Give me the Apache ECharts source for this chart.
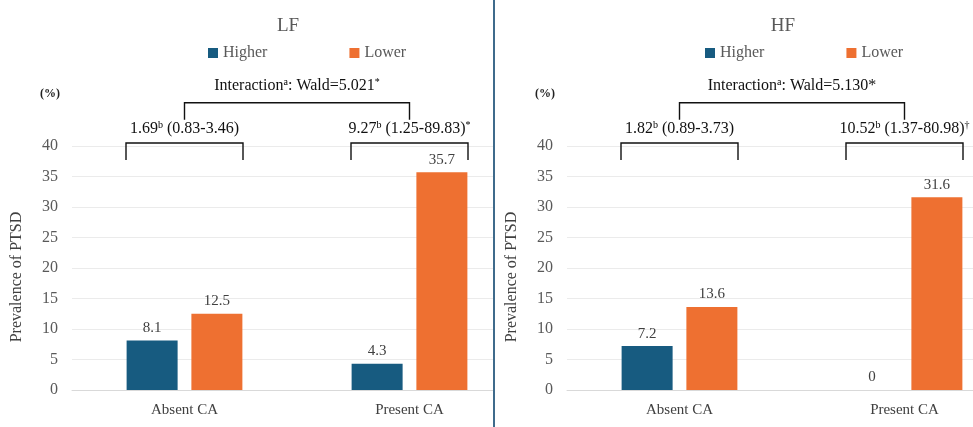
<!DOCTYPE html>
<html><head><meta charset="utf-8">
<script src="https://cdn.jsdelivr.net/npm/echarts@6/dist/echarts.min.js"></script>
<style>
html,body{margin:0;padding:0;background:#fff;}
#wrap{position:relative;width:973px;height:427px;overflow:hidden;background:#fff;}
.clip{position:absolute;top:0;height:427px;overflow:hidden;}
#clipL{left:0;width:493px;}
#clipR{left:495px;width:478px;}
.chart{width:540px;height:427px;}
#divider{position:absolute;left:493px;top:0;width:2px;height:427px;background:#3f6b8c;}
</style></head><body>
<div id="wrap">
<div class="clip" id="clipL"><div class="chart" id="chartL"></div></div>
<div id="divider"></div>
<div class="clip" id="clipR"><div class="chart" id="chartR"></div></div>
</div>
<script>
// ---- data ----
const categories = ['Absent CA', 'Present CA'];
const seriesNames = ['Higher', 'Lower'];
const lfHigher = [8.1, 4.3];
const lfLower = [12.5, 35.7];
const hfHigher = [7.2, 0];
const hfLower = [13.6, 31.6];
const yMin = 0, yMax = 40, yInterval = 5;
const lfTitle = 'LF';
const hfTitle = 'HF';
const lfGroupText = ['1.69{b|b} (0.83-3.46)', '9.27{b|b} (1.25-89.83){s|*}'];
const hfGroupText = ['1.82{b|b} (0.89-3.73)', '10.52{b|b} (1.37-80.98){s|†}'];
const lfInteraction = 'Interaction{b|a}: Wald=5.021{s|*}';
const hfInteraction = 'Interaction{b|a}: Wald=5.130*';
const yAxisName = 'Prevalence of PTSD';
const unitLabel = '(%)';

// ---- style ----
const SERIF = '"Liberation Serif", "Times New Roman", serif';
const C_HIGH = '#175b80';
const C_LOW = '#ee7031';
const richSup = {
  b: {fontSize: 10, fontFamily: SERIF, verticalAlign: 'top', fill: '#000', color: '#000', padding: [0, 0, 6, 0]},
  s: {fontSize: 10, fontFamily: SERIF, verticalAlign: 'top', fill: '#000', color: '#000', padding: [0, 0, 6, 0]}
};

function annotSeries(groupTexts, interText) {
  return {
    type: 'custom', silent: true, clip: false, z: 10,
    data: [[0], [1], [2]],
    renderItem: function (params, api) {
      const i = params.dataIndex;
      const cw = api.size([1, 0])[0];
      const lineStyle = {stroke: '#111', lineWidth: 1.4, fill: null};
      const textStyleBase = {fill: '#111', font: '16px ' + SERIF, align: 'center', verticalAlign: 'middle', rich: richSup};
      if (i < 2) {
        const cx = api.coord([i, 0])[0];
        const half = cw * 0.26;
        const yTop = api.coord([i, 40.5])[1];
        const yBot = api.coord([i, 37.7])[1];
        const yTxt = api.coord([i, 42.9])[1];
        return {type: 'group', children: [
          {type: 'polyline', shape: {points: [[cx - half, yBot], [cx - half, yTop], [cx + half, yTop], [cx + half, yBot]]}, style: lineStyle},
          {type: 'text', style: Object.assign({}, textStyleBase, {text: groupTexts[i], x: cx, y: yTxt})}
        ]};
      } else {
        const x0 = api.coord([0, 0])[0];
        const x1 = api.coord([1, 0])[0];
        const yTop = api.coord([0, 47.1])[1];
        const yBot = api.coord([0, 44.3])[1];
        const yTxt = api.coord([0, 49.9])[1];
        return {type: 'group', children: [
          {type: 'polyline', shape: {points: [[x0, yBot], [x0, yTop], [x1, yTop], [x1, yBot]]}, style: lineStyle},
          {type: 'text', style: Object.assign({}, textStyleBase, {text: interText, x: (x0 + x1) / 2, y: yTxt})}
        ]};
      }
    }
  };
}

function buildOption(title, higher, lower, groupTexts, interText, legendLeft) {
  const labelCfg = {show: true, position: 'top', distance: 5, fontFamily: SERIF, fontSize: 15, color: '#404040'};
  return {
    animation: false,
    backgroundColor: '#fff',
    title: {text: title, left: 283, top: 12, textAlign: 'center',
      textStyle: {fontFamily: SERIF, fontSize: 19, fontWeight: 'normal', color: '#595959'}},
    legend: {data: seriesNames, left: legendLeft, top: 40, itemWidth: 10, itemHeight: 10, itemGap: 82,
      icon: 'rect', textStyle: {fontFamily: SERIF, fontSize: 16, color: '#595959'}},
    graphic: [{type: 'text', left: 40, top: 88, style: {text: unitLabel, font: 'bold 12px ' + SERIF, fill: '#222'}}],
    grid: {left: 72, top: 146, width: 450, bottom: 37},
    xAxis: {type: 'category', data: categories,
      axisLine: {lineStyle: {color: '#d9d9d9'}}, axisTick: {show: false},
      axisLabel: {fontFamily: SERIF, fontSize: 15, color: '#404040', margin: 13}},
    yAxis: {type: 'value', min: yMin, max: yMax, interval: yInterval,
      name: yAxisName, nameLocation: 'middle', nameRotate: 90, nameGap: 47,
      nameTextStyle: {fontFamily: SERIF, fontSize: 16, color: '#404040', padding: [0, 18, 0, 0]},
      axisLine: {show: false}, axisTick: {show: false},
      axisLabel: {fontFamily: SERIF, fontSize: 16, color: '#595959', margin: 14},
      splitLine: {lineStyle: {color: '#ebebeb'}}},
    series: [
      {name: seriesNames[0], type: 'bar', data: higher, barWidth: 51, barGap: '27%', itemStyle: {color: C_HIGH}, label: labelCfg},
      {name: seriesNames[1], type: 'bar', data: lower, barWidth: 51, barGap: '27%', itemStyle: {color: C_LOW}, label: labelCfg},
      annotSeries(groupTexts, interText)
    ]
  };
}

const chartL = echarts.init(document.getElementById('chartL'));
chartL.setOption(buildOption(lfTitle, lfHigher, lfLower, lfGroupText, lfInteraction, 203));
const chartR = echarts.init(document.getElementById('chartR'));
chartR.setOption(buildOption(hfTitle, hfHigher, hfLower, hfGroupText, hfInteraction, 205));
</script>
</body></html>
